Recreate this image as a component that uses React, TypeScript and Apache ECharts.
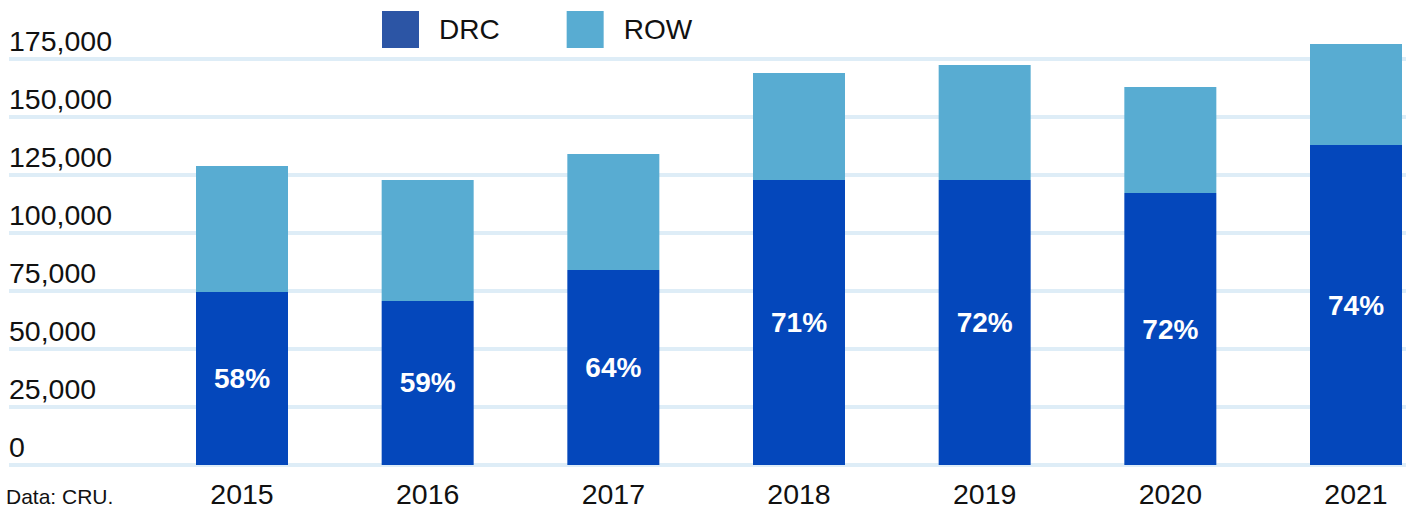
import React, { useEffect, useRef } from "react";
import * as echarts from "echarts";

const categories = ["2015", "2016", "2017", "2018", "2019", "2020", "2021"];
const drcValues = [74600, 70700, 84000, 122800, 122800, 117200, 137900];
const rowValues = [54300, 52100, 50000, 46200, 49600, 45700, 43600];
const drcShares = ["58%", "59%", "64%", "71%", "72%", "72%", "74%"];
const yMin = 0;
const yMax = 175000;
const yInterval = 25000;
const seriesNames = ["DRC", "ROW"];
const sourceNote = "Data: CRU.";

const FONT = "'Liberation Sans', Arial, Helvetica, sans-serif";
const DRC_BAR = "#0447bb";
const DRC_LEGEND = "#2c55a5";
const ROW_COLOR = "#58acd2";
const GRID_COLOR = "#deedf7";
const TEXT = "#111111";

export default function App() {
  const ref = useRef<HTMLDivElement>(null);
  useEffect(() => {
    if (!ref.current) return;
    const chart = echarts.init(ref.current, undefined, { renderer: "svg" });
    chart.setOption({
      animation: false,
      textStyle: { fontFamily: FONT },
      legend: {
        left: 382,
        top: 11,
        padding: 0,
        itemWidth: 37,
        itemHeight: 37,
        itemGap: 67,
        icon: "rect",
        textStyle: { fontSize: 28, color: TEXT, fontFamily: FONT, padding: [0, 0, 0, 15] },
        data: [
          { name: seriesNames[0], itemStyle: { color: DRC_LEGEND } },
          { name: seriesNames[1], itemStyle: { color: ROW_COLOR } },
        ],
      },
      grid: [
        { left: 9, right: 4, top: 59, bottom: 44, containLabel: false },
        { left: 242, right: 54, top: 59, bottom: 44, containLabel: false },
      ],
      xAxis: [
        { gridIndex: 0, type: "value", min: 0, max: 1, show: false },
        {
          gridIndex: 1,
          type: "category",
          data: categories,
          boundaryGap: false,
          axisLine: { show: false },
          axisTick: { show: false },
          splitLine: { show: false },
          axisLabel: { fontSize: 28.5, color: TEXT, margin: 14, fontFamily: FONT },
        },
      ],
      yAxis: [
        {
          gridIndex: 0,
          type: "value",
          min: yMin,
          max: yMax,
          interval: yInterval,
          axisLine: { show: false },
          axisTick: { show: false },
          splitLine: { show: true, lineStyle: { color: GRID_COLOR, width: 4 } },
          axisLabel: {
            inside: true,
            margin: 0,
            align: "left",
            verticalAlign: "bottom",
            padding: [0, 0, 4, 0],
            fontSize: 28.5,
            color: TEXT,
            fontFamily: FONT,
            formatter: (v: number) => v.toLocaleString("en-US"),
          },
        },
        {
          gridIndex: 1,
          type: "value",
          min: yMin,
          max: yMax,
          interval: yInterval,
          show: false,
          splitLine: { show: false },
        },
      ],
      series: [
        {
          name: seriesNames[0],
          type: "bar",
          xAxisIndex: 1,
          yAxisIndex: 1,
          stack: "total",
          barWidth: 92,
          clip: false,
          itemStyle: { color: DRC_BAR },
          label: {
            show: true,
            position: "inside",
            color: "#ffffff",
            fontWeight: "bold",
            fontSize: 28,
            fontFamily: FONT,
            formatter: (p: any) => drcShares[p.dataIndex],
          },
          data: drcValues,
        },
        {
          name: seriesNames[1],
          type: "bar",
          xAxisIndex: 1,
          yAxisIndex: 1,
          stack: "total",
          barWidth: 92,
          clip: false,
          itemStyle: { color: ROW_COLOR },
          data: rowValues,
        },
      ],
      graphic: [
        {
          type: "text",
          left: 6,
          top: 486,
          style: { text: sourceNote, fontSize: 21, fill: TEXT, fontFamily: FONT },
        },
      ],
    });
    return () => chart.dispose();
  }, []);
  return (
    <div
      ref={ref}
      style={{ position: "absolute", left: 0, top: 0, width: 1410, height: 509 }}
    />
  );
}
